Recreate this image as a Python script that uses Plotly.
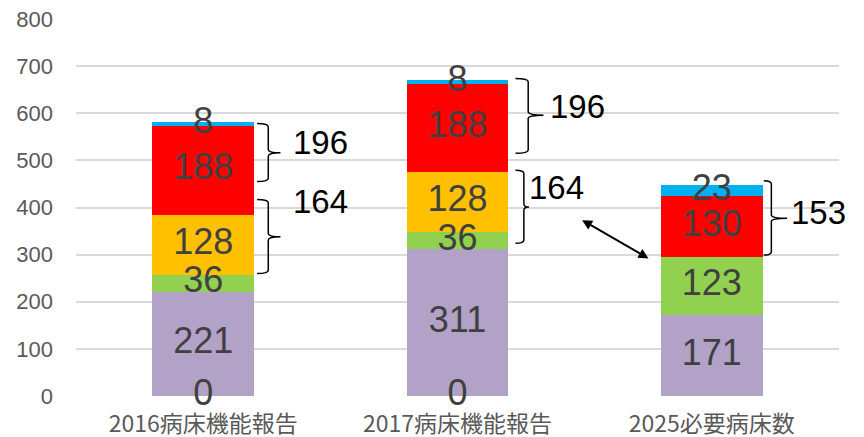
import plotly.graph_objects as go
import numpy as np

categories = ["2016病床機能報告", "2017病床機能報告", "2025必要病床数"]
zero_vals = [0, 0, None]
purple_vals = [221, 311, 171]
green_vals = [36, 36, 123]
orange_vals = [128, 128, None]
red_vals = [188, 188, 130]
blue_vals = [8, 8, 23]

series = [
    ("zero", zero_vals, "#B3A2C7"),
    ("purple", purple_vals, "#B3A2C7"),
    ("green", green_vals, "#92D050"),
    ("orange", orange_vals, "#FFC000"),
    ("red", red_vals, "#FF0000"),
    ("blue", blue_vals, "#00B0F0"),
]

# bracket annotations: (x_vertical, x_tip, x_nub, y_top, y_bottom, y_mid, label, label_x, label_y)
brackets = [
    (0.256, 0.212, 0.304, 578, 455, 516, "196", 0.462, 538),
    (0.256, 0.212, 0.304, 417, 260, 338, "164", 0.462, 413),
    (1.278, 1.228, 1.338, 674, 515, 596, "196", 1.472, 615),
    (1.261, 1.228, 1.281, 479, 324, 401, "164", 1.389, 443),
    (2.234, 2.204, 2.296, 457, 299, 377, "153", 2.42, 390),
]

x = np.arange(len(categories))
fig = go.Figure()

for name, vals, color in series:
    fig.add_trace(go.Bar(
        x=x, y=vals, name=name, marker=dict(color=color, line=dict(width=0)),
        width=0.4, showlegend=False, hoverinfo="skip",
    ))

# data labels at segment centres
base = np.zeros(len(categories))
for name, vals, color in series:
    v = np.array([0 if a is None else a for a in vals], dtype=float)
    xs, ys, ts = [], [], []
    for i, a in enumerate(vals):
        if a is not None:
            xs.append(x[i]); ys.append(base[i] + a / 2); ts.append(str(a))
    base = base + v
    fig.add_trace(go.Scatter(
        x=xs, y=ys, text=ts, mode="text", cliponaxis=False, showlegend=False,
        textfont=dict(family="Liberation Sans", size=36, color="#404040"),
        hoverinfo="skip",
    ))

for vx, tx, nx, yt, yb, ym, lab, lx, ly in brackets:
    r = 7
    path = (f"M {tx},{yt} Q {vx},{yt} {vx},{yt - r} L {vx},{ym + r} "
            f"Q {vx},{ym} {nx},{ym} Q {vx},{ym} {vx},{ym - r} "
            f"L {vx},{yb + r} Q {vx},{yb} {tx},{yb}")
    fig.add_shape(type="path", path=path, xref="x", yref="y",
                  line=dict(color="black", width=1.5), layer="above")
    fig.add_annotation(x=lx, y=ly, xref="x", yref="y", text=lab, showarrow=False,
                       font=dict(family="Liberation Sans", size=33, color="black"))

fig.add_annotation(x=1.751, y=292, ax=1.484, ay=375, xref="x", yref="y",
                   axref="x", ayref="y", text="", showarrow=True,
                   arrowhead=2, startarrowhead=2, arrowside="end+start",
                   arrowsize=1, startarrowsize=1, arrowwidth=2, arrowcolor="black")

fig.update_layout(
    barmode="stack",
    width=864, height=437,
    margin=dict(l=76, r=25, t=19, b=41),
    paper_bgcolor="white", plot_bgcolor="white",
    xaxis=dict(range=[-0.5, 2.5], tickvals=list(x), ticktext=categories,
               showgrid=False, zeroline=False, showline=False, ticks="",
               ticklabelstandoff=12, automargin=False,
               tickfont=dict(family="Noto Sans CJK JP", size=23, color="#595959")),
    yaxis=dict(range=[0, 800], dtick=100, gridcolor="#D9D9D9", gridwidth=1.5,
               zeroline=False, showline=False, ticks="", ticklabelstandoff=22,
               automargin=False,
               tickfont=dict(family="Liberation Sans", size=22, color="#595959")),
)

fig.write_html("out.html", config={"displayModeBar": False},
               post_script="document.body.style.margin='0';document.body.style.overflow='hidden';")
